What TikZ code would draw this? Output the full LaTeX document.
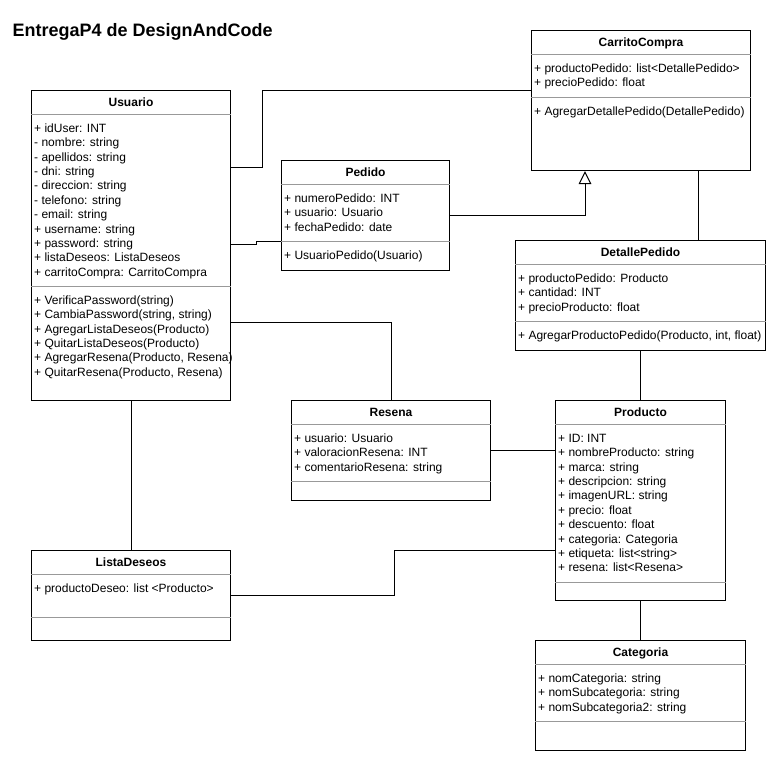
\documentclass[tikz,border=0pt]{standalone}
\usepackage{fontspec}
\setmainfont{Liberation Sans}
\usetikzlibrary{arrows.meta}

\tikzstyle{line} = [draw, line width=1pt]
\tikzstyle{umlclass} = [draw, line width=1pt, rectangle, inner sep=0pt, anchor=north west]
\tikzstyle{sepline} = [draw, line width=1pt, black!40]
\tikzstyle{ctitle} = [anchor=base, inner sep=0pt, font=\fontsize{12}{14}\selectfont\bfseries]
\tikzstyle{member} = [anchor=base west, inner sep=0pt, font=\fontsize{12}{14}\selectfont]
\tikzstyle{inherit} = [draw, line width=1pt, -{Triangle[open, length=13pt, width=12.5pt]}]

\begin{document}
\begin{tikzpicture}[x=1pt,y=-1pt]
\useasboundingbox (0,0) rectangle (776,761);
%\draw[help lines] (0,0) grid (776,761);

\node[anchor=base west, inner sep=0pt, font=\fontsize{18}{20}\selectfont\bfseries] (heading) at (12.5,36) {EntregaP4 de DesignAndCode};

%boxes
\node[umlclass, minimum width=199pt, minimum height=310pt] (usuario) at (31,90) {};
\node[umlclass, minimum width=168pt, minimum height=110pt] (pedido) at (281,160) {};
\node[umlclass, minimum width=219pt, minimum height=140pt] (carrito) at (531,30) {};
\node[umlclass, minimum width=250pt, minimum height=110pt] (detalle) at (515,240) {};
\node[umlclass, minimum width=199pt, minimum height=100pt] (resena) at (291,400) {};
\node[umlclass, minimum width=170pt, minimum height=200pt] (producto) at (555,400) {};
\node[umlclass, minimum width=199pt, minimum height=90pt] (lista) at (31,550) {};
\node[umlclass, minimum width=210pt, minimum height=110pt] (categoria) at (535,640) {};

%separators
\path [sepline] ([yshift=-24pt]usuario.north west) -- ([yshift=-24pt]usuario.north east);
\path [sepline] ([yshift=-196pt]usuario.north west) -- ([yshift=-196pt]usuario.north east);
\path [sepline] ([yshift=-24pt]pedido.north west) -- ([yshift=-24pt]pedido.north east);
\path [sepline] ([yshift=-81pt]pedido.north west) -- ([yshift=-81pt]pedido.north east);
\path [sepline] ([yshift=-24pt]carrito.north west) -- ([yshift=-24pt]carrito.north east);
\path [sepline] ([yshift=-67pt]carrito.north west) -- ([yshift=-67pt]carrito.north east);
\path [sepline] ([yshift=-24pt]detalle.north west) -- ([yshift=-24pt]detalle.north east);
\path [sepline] ([yshift=-81pt]detalle.north west) -- ([yshift=-81pt]detalle.north east);
\path [sepline] ([yshift=-24pt]resena.north west) -- ([yshift=-24pt]resena.north east);
\path [sepline] ([yshift=-81pt]resena.north west) -- ([yshift=-81pt]resena.north east);
\path [sepline] ([yshift=-24pt]producto.north west) -- ([yshift=-24pt]producto.north east);
\path [sepline] ([yshift=-182pt]producto.north west) -- ([yshift=-182pt]producto.north east);
\path [sepline] ([yshift=-24pt]lista.north west) -- ([yshift=-24pt]lista.north east);
\path [sepline] ([yshift=-67pt]lista.north west) -- ([yshift=-67pt]lista.north east);
\path [sepline] ([yshift=-24pt]categoria.north west) -- ([yshift=-24pt]categoria.north east);
\path [sepline] ([yshift=-81pt]categoria.north west) -- ([yshift=-81pt]categoria.north east);

%titles
\node[ctitle] (usuario-t) at ([yshift=-16.5pt]usuario.north) {Usuario};
\node[ctitle] (pedido-t) at ([yshift=-16.5pt]pedido.north) {Pedido};
\node[ctitle] (carrito-t) at ([yshift=-16.5pt]carrito.north) {CarritoCompra};
\node[ctitle] (detalle-t) at ([yshift=-16.5pt]detalle.north) {DetallePedido};
\node[ctitle] (resena-t) at ([yshift=-16.5pt]resena.north) {Resena};
\node[ctitle] (producto-t) at ([yshift=-16.5pt]producto.north) {Producto};
\node[ctitle] (lista-t) at ([yshift=-16.5pt]lista.north) {ListaDeseos};
\node[ctitle] (categoria-t) at ([yshift=-16.5pt]categoria.north) {Categoria};

% Usuario
\node[member] (usuario-1) at (34,132.3) {+ idUser: INT};
\node[member] (usuario-2) at (34,146.7) {- nombre: string};
\node[member] (usuario-3) at (34,161.1) {- apellidos: string};
\node[member] (usuario-4) at (34,175.5) {- dni: string};
\node[member] (usuario-5) at (34,189.9) {- direccion: string};
\node[member] (usuario-6) at (34,204.3) {- telefono: string};
\node[member] (usuario-7) at (34,218.7) {- email: string};
\node[member] (usuario-8) at (34,233.1) {+ username: string};
\node[member] (usuario-9) at (34,247.5) {+ password: string};
\node[member] (usuario-10) at (34,261.9) {+ listaDeseos: ListaDeseos};
\node[member] (usuario-11) at (34,276.3) {+ carritoCompra: CarritoCompra};
\node[member] (usuario-m1) at (34,304.3) {+ VerificaPassword(string)};
\node[member] (usuario-m2) at (34,318.7) {+ CambiaPassword(string, string)};
\node[member] (usuario-m3) at (34,333.1) {+ AgregarListaDeseos(Producto)};
\node[member] (usuario-m4) at (34,347.5) {+ QuitarListaDeseos(Producto)};
\node[member] (usuario-m5) at (34,361.9) {+ AgregarResena(Producto, Resena)};
\node[member] (usuario-m6) at (34,376.3) {+ QuitarResena(Producto, Resena)};

% Pedido
\node[member] (pedido-1) at (284,202.3) {+ numeroPedido: INT};
\node[member] (pedido-2) at (284,216.7) {+ usuario: Usuario};
\node[member] (pedido-3) at (284,231.1) {+ fechaPedido: date};
\node[member] (pedido-m1) at (284,259.3) {+ UsuarioPedido(Usuario)};

% CarritoCompra
\node[member] (carrito-1) at (534,72.3) {+ productoPedido: list<DetallePedido>};
\node[member] (carrito-2) at (534,86.7) {+ precioPedido: float};
\node[member] (carrito-m1) at (534,115.3) {+ AgregarDetallePedido(DetallePedido)};

% DetallePedido
\node[member] (detalle-1) at (518,282.3) {+ productoPedido: Producto};
\node[member] (detalle-2) at (518,296.7) {+ cantidad: INT};
\node[member] (detalle-3) at (518,311.1) {+ precioProducto: float};
\node[member] (detalle-m1) at (518,339.3) {+ AgregarProductoPedido(Producto, int, float)};

% Resena
\node[member] (resena-1) at (294,442.3) {+ usuario: Usuario};
\node[member] (resena-2) at (294,456.7) {+ valoracionResena: INT};
\node[member] (resena-3) at (294,471.1) {+ comentarioResena: string};

% Producto
\node[member] (producto-1) at (558,442.3) {+ ID: INT};
\node[member] (producto-2) at (558,456.7) {+ nombreProducto: string};
\node[member] (producto-3) at (558,471.1) {+ marca: string};
\node[member] (producto-4) at (558,485.5) {+ descripcion: string};
\node[member] (producto-5) at (558,499.9) {+ imagenURL: string};
\node[member] (producto-6) at (558,514.3) {+ precio: float};
\node[member] (producto-7) at (558,528.7) {+ descuento: float};
\node[member] (producto-8) at (558,543.1) {+ categoria: Categoria};
\node[member] (producto-9) at (558,557.5) {+ etiqueta: list<string>};
\node[member] (producto-10) at (558,571.9) {+ resena: list<Resena>};

% ListaDeseos
\node[member] (lista-1) at (34,592.3) {+ productoDeseo: list <Producto>};

% Categoria
\node[member] (categoria-1) at (538,682.3) {+ nomCategoria: string};
\node[member] (categoria-2) at (538,696.7) {+ nomSubcategoria: string};
\node[member] (categoria-3) at (538,711.1) {+ nomSubcategoria2: string};

%lines
\path [line] ([yshift=-77pt]usuario.north east) -- ++(31,0) |- ([yshift=-60pt]carrito.north west);
\path [line] ([yshift=-154pt]usuario.north east) -- ++(25,0) |- ([yshift=-81pt]pedido.north west);
\path [inherit] ([yshift=-55pt]pedido.north east) -| ([xshift=54pt]carrito.south west);
\path [line] ([xshift=167pt]carrito.south west) -- ([xshift=183pt]detalle.north west);
\path [line] (producto.north |- detalle.south) -- (producto.north);
\path [line] ([yshift=-232pt]usuario.north east) -| (resena.north);
\path [line] (resena.east) -- (resena.east -| producto.west);
\path [line] (usuario.south) -- (lista.north);
\path [line] (lista.east) -- ++(163,0) |- ([yshift=-150pt]producto.north west);
\path [line] (producto.south) -- (categoria.north);
\end{tikzpicture}
\end{document}
